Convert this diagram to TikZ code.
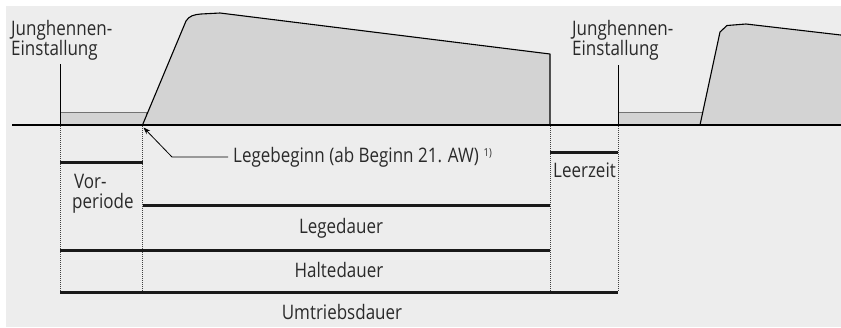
\documentclass[tikz,border=0pt]{standalone}
\usepackage{fontspec}
\setmainfont{Open Sans}[FakeStretch=0.85]
\usetikzlibrary{arrows.meta}
\definecolor{bg}{HTML}{EDEDED}
\definecolor{area}{HTML}{D3D3D3}
\definecolor{ink}{HTML}{2A2A2A}
\begin{document}
\begin{tikzpicture}[x=1pt,y=-1pt,
  lbl/.style={inner sep=0pt, text=ink, font=\fontsize{20}{20}\selectfont},
  areafill/.style={fill=area},
  outline/.style={draw=black, line width=1.1pt, line join=round},
  prebox/.style={fill=area, draw=black!55, line width=0.8pt},
  marker/.style={draw=black, line width=1pt},
  axisline/.style={draw=black, line width=1.1pt},
  bar/.style={draw=black!90, line width=3pt},
  guide/.style={draw=black!75, line width=0.7pt, dash pattern=on 0.8pt off 1.2pt},
  leader/.style={draw=black, line width=0.8pt, -{Stealth[length=7pt,width=5pt]}}]
\useasboundingbox (0,0) rectangle (841,327);
\fill[bg] (6,6) rectangle (841,327);

% key points on the time axis
\coordinate (s1) at (60,125);    % first placement of young hens
\coordinate (l1) at (142.5,125); % start of laying
\coordinate (e1) at (550,125);   % end of laying
\coordinate (s2) at (618,125);   % second placement
\coordinate (l2) at (700,125);

% pre-period boxes
\draw[prebox] (s1) rectangle (146,112);
\draw[prebox] (s2) rectangle (704,112);

% first laying curve
\fill[areafill] (l1) -- (186,21) .. controls (189,16) and (194,14.5) .. (201,14)
  -- (220,13) -- (550,54) -- (e1) -- cycle;
\draw[outline] (l1) -- (186,21) .. controls (189,16) and (194,14.5) .. (201,14)
  -- (220,13) -- (550,54) -- (e1);

% second laying curve, running out of the frame
\begin{scope}
\clip (0,0) rectangle (841,327);
\fill[areafill] (l2) -- (720,32) -- (727,25.5) -- (746,24) -- (845,35.5) -- (845,125) -- cycle;
\draw[outline] (l2) -- (720,32) -- (727,25.5) -- (746,24) -- (845,35.5);
\end{scope}

% time axis
\draw[axisline] (12,125) -- (841,125);

% placement markers
\coordinate (m1) at (60,64);
\coordinate (m2) at (618,65);
\draw[marker] (m1) -- (s1);
\draw[marker] (m2) -- (s2);

% dotted guides
\foreach \gx/\gname in {60/g1,142.5/g2,550/g3,618/g4}{
  \coordinate (\gname t) at (\gx,126);
  \coordinate (\gname b) at (\gx,291);
  \draw[guide] (\gname t) -- (\gname b);
}

% duration bars
\draw[bar] (60,162) -- (142.5,162);
\draw[bar] (550,152) -- (618,152);
\draw[bar] (142.5,205) -- (550,205);
\draw[bar] (60,250) -- (550,250);
\draw[bar] (60,292) -- (618,292);

% labels
\node[lbl, anchor=base west] (ja1) at (11,35.5) {Junghennen-};
\node[lbl, anchor=base west] (jb1) at (11,55.5) {Einstallung};
\node[lbl, anchor=base west] (ja2) at (572,35.5) {Junghennen-};
\node[lbl, anchor=base west] (jb2) at (572,55.5) {Einstallung};
\node[lbl, anchor=base west] (vor) at (74,188) {Vor-};
\node[lbl, anchor=base west] (per) at (72,208) {periode};
\node[lbl, anchor=base] (leer) at (584.5,177) {Leerzeit};
\node[lbl, anchor=base] (lege) at (341,233) {Legedauer};
\node[lbl, anchor=base] (halte) at (339,277) {Haltedauer};
\node[lbl, anchor=base] (umtr) at (342,319) {Umtriebsdauer};
\node[lbl, anchor=base west] (lb) at (233,162)
  {Legebeginn (ab Beginn 21. AW)\hspace{5pt}\raisebox{6pt}{\fontsize{11}{11}\selectfont 1)}};

% leader to the start of laying
\coordinate (tip) at (143.5,127.5);
\draw[leader] ([xshift=-5pt,yshift=5pt]lb.base west) -- (172,157) -- (tip);
\end{tikzpicture}
\end{document}
